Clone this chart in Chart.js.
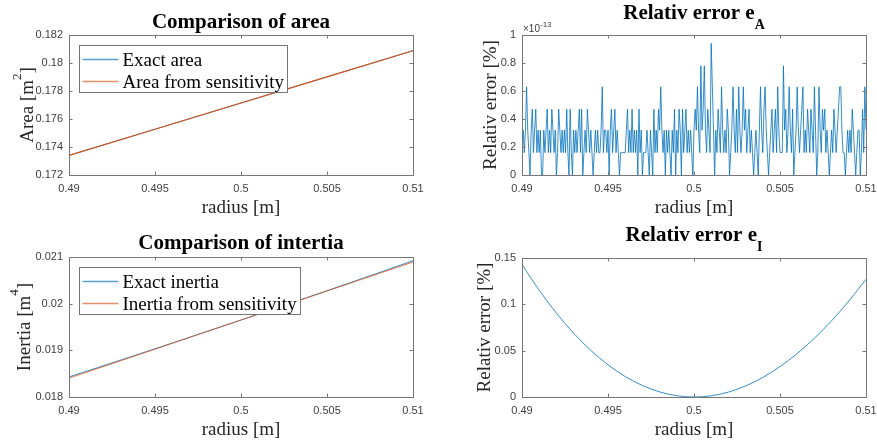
<!DOCTYPE html>
<html>
<head>
<meta charset="utf-8">
<script src="https://cdn.jsdelivr.net/npm/chart.js@4.4.1/dist/chart.umd.min.js"></script>
<style>
  body { margin: 0; background: #fff; }
  #wrap { position: relative; width: 877px; height: 446px; }
  canvas { position: absolute; }
</style>
</head>
<body>
<div id="wrap">
  <canvas id="areaChart" width="440" height="223" style="left:0;top:0"></canvas>
  <canvas id="errAChart" width="437" height="223" style="left:440px;top:0"></canvas>
  <canvas id="inertiaChart" width="440" height="223" style="left:0;top:223px"></canvas>
  <canvas id="errIChart" width="437" height="223" style="left:440px;top:223px"></canvas>
</div>
<script>
// tick values
const radiusTicks = [0.49, 0.495, 0.5, 0.505, 0.51];
const areaTicks = [0.172, 0.174, 0.176, 0.178, 0.18, 0.182];
const inertiaTicks = [0.018, 0.019, 0.02, 0.021];
const errATicks = [0, 0.2, 0.4, 0.6, 0.8, 1];
const errITicks = [0, 0.05, 0.1, 0.15];

// area comparison
const rArea = [0.49, 0.495, 0.5, 0.505, 0.51];
const areaExact = [0.1734, 0.17527, 0.17714, 0.17901, 0.18088];
const areaSens = [0.1734, 0.17527, 0.17714, 0.17901, 0.18088];

// inertia comparison
const rInertia = [0.49, 0.4925, 0.495, 0.4975, 0.5, 0.5025, 0.505, 0.5075, 0.51];
const inertiaExact = [0.01843, 0.01873, 0.019033, 0.01934, 0.019649, 0.019962, 0.020278, 0.020597, 0.02092];
const inertiaSens = [0.018404, 0.018715, 0.019026, 0.019338, 0.019649, 0.01996, 0.020271, 0.020582, 0.020893];

// relative error of inertia [%]
const rErrI = [0.49, 0.491, 0.492, 0.493, 0.494, 0.495, 0.496, 0.497, 0.498, 0.499, 0.5,
  0.501, 0.502, 0.503, 0.504, 0.505, 0.506, 0.507, 0.508, 0.509, 0.51];
const errI = [0.143, 0.1152, 0.0905, 0.0689, 0.0503, 0.0348, 0.0221, 0.0124, 0.0055, 0.0014, 0,
  0.0013, 0.0053, 0.0119, 0.0211, 0.0328, 0.0469, 0.0634, 0.0823, 0.1035, 0.127];

// relative error of area [% x 1e-13], evenly sampled from 0.49 to 0.51
const errA = [
  0.16,0.32,0.16,0.32,0.63,0.32,0.16,0,0.32,0.47,0.16,0.32,0.47,0.16,0.32,0.16,0.32,0,0,0.32,
  0.16,0.32,0.47,0.16,0.32,0.16,0.47,0.32,0.16,0.32,0,0.16,0.47,0.32,0.16,0.32,0.16,0.32,0.16,0.47,
  0.16,0,0.47,0.16,0,0.32,0.16,0.32,0.16,0.32,0.47,0.16,0.47,0,0.16,0.32,0.16,0.47,0.32,0.16,
  0.32,0.16,0,0.16,0.32,0.16,0.32,0.16,0.16,0.32,0.63,0.16,0.32,0.32,0.16,0.32,0,0.32,0.47,0.16,
  0.32,0.47,0.16,0.32,0.16,0,0.16,0.16,0.16,0.16,0.16,0.32,0.47,0.16,0.32,0.16,0.47,0.16,0.32,0.16,
  0.32,0,0.47,0.16,0.32,0,0.16,0.16,0.16,0.32,0.16,0,0.32,0.16,0,0.47,0.16,0.32,0.16,0.47,
  0.32,0.63,0.32,0.16,0.32,0,0.32,0.16,0.32,0.16,0,0.32,0.16,0.47,0,0.32,0.16,0.47,0.32,0,
  0.47,0.16,0.32,0.47,0.16,0.32,0.16,0.32,0.16,0,0.32,0.47,0.32,0.63,0.32,0.16,0.78,0.32,0.47,0.78,
  0.32,0.16,0.47,0.32,0.16,0.94,0.63,0.32,0,0.32,0.16,0.47,0.32,0.16,0.63,0.32,0.16,0.32,0.16,0.47,
  0.32,0,0.16,0.32,0.63,0.32,0.16,0.47,0.16,0.63,0.32,0.16,0.32,0.63,0.32,0.47,0.16,0.32,0.47,0.16,
  0.32,0.16,0,0.16,0.32,0.16,0,0.32,0.63,0.32,0.16,0.47,0.63,0.32,0.16,0,0.16,0.32,0.47,0.16,
  0.32,0.47,0.16,0.63,0.32,0.16,0.16,0.16,0.78,0.32,0.47,0.16,0.32,0.63,0.32,0.16,0.47,0,0.16,0.32,
  0.63,0.32,0.16,0.32,0.47,0.63,0.16,0.32,0.16,0.47,0.32,0.16,0.47,0.32,0.16,0.63,0.32,0,0.16,0.63,
  0.32,0.16,0.47,0.32,0.47,0.16,0.32,0.16,0,0.16,0.32,0.16,0.47,0.32,0.16,0.32,0.47,0.63,0.63,0.32,
  0.16,0.16,0,0.16,0.32,0.16,0.32,0.16,0.47,0.32,0.16,0,0.16,0.32,0.32,0,0.16,0.47,0.16,0.63,0.32
];
const rErrA = errA.map((_, i) => 0.49 + (i * 0.02) / (errA.length - 1));

const BLUE = "#0072BD";
const ORANGE = "#D95319";
const SERIF = '"Liberation Serif", "Times New Roman", serif';
const SANS = '"Liberation Sans", Arial, sans-serif';
const AXIS = "#777";

function pts(xs, ys) {
  return xs.map((x, i) => ({ x: x, y: ys[i] }));
}

function drawRich(ctx, parts, x, y) {
  parts.forEach((p) => {
    ctx.font = p.font;
    ctx.fillText(p.text, x, y + (p.dy || 0));
    x += ctx.measureText(p.text).width;
  });
}
function richWidth(ctx, parts) {
  let w = 0;
  parts.forEach((p) => {
    ctx.font = p.font;
    w += ctx.measureText(p.text).width;
  });
  return w;
}

// matlab-like box, inward ticks, labels and legend
const matlabAxes = {
  id: "matlab",
  afterDraw(chart, args, o) {
    const ctx = chart.ctx;
    const ca = chart.chartArea;
    const xs = chart.scales.x;
    const ys = chart.scales.y;
    ctx.save();
    ctx.strokeStyle = AXIS;
    ctx.lineWidth = 1;
    ctx.beginPath();
    xs.ticks.forEach((t) => {
      const px = Math.round(xs.getPixelForValue(t.value)) + 0.5;
      ctx.moveTo(px, ca.bottom);
      ctx.lineTo(px, ca.bottom - 3.5);
      ctx.moveTo(px, ca.top);
      ctx.lineTo(px, ca.top + 3.5);
    });
    ys.ticks.forEach((t) => {
      const py = Math.round(ys.getPixelForValue(t.value)) + 0.5;
      ctx.moveTo(ca.left, py);
      ctx.lineTo(ca.left + 3.5, py);
      ctx.moveTo(ca.right, py);
      ctx.lineTo(ca.right - 3.5, py);
    });
    ctx.stroke();
    ctx.strokeRect(ca.left + 0.5, ca.top + 0.5, ca.right - ca.left, ca.bottom - ca.top);

    // title
    ctx.fillStyle = "#000";
    ctx.textBaseline = "alphabetic";
    ctx.textAlign = "left";
    const cx = (ca.left + ca.right) / 2;
    const tw = richWidth(ctx, o.title);
    drawRich(ctx, o.title, cx - tw / 2, ca.top - o.titleOffset);

    // x label
    ctx.fillStyle = "#262626";
    const xl = [{ text: "radius [m]", font: "19px " + SERIF }];
    drawRich(ctx, xl, cx - richWidth(ctx, xl) / 2, ca.bottom + 38);

    // y label
    const cy = (ca.top + ca.bottom) / 2;
    ctx.save();
    ctx.translate(o.yLabelX, cy);
    ctx.rotate(-Math.PI / 2);
    drawRich(ctx, o.yLabel, -richWidth(ctx, o.yLabel) / 2, 0);
    ctx.restore();

    // exponent
    if (o.exponent) {
      ctx.fillStyle = "#404040";
      drawRich(ctx, [
        { text: "\u00d710", font: "10px " + SANS },
        { text: o.exponent, font: "8px " + SANS, dy: -5 },
      ], ca.left + 1, ca.top - 3);
    }

    // legend
    if (o.legend) {
      const ds = chart.data.datasets;
      const font = "19px " + SERIF;
      ctx.font = font;
      let mw = 0;
      ds.forEach((d) => (mw = Math.max(mw, ctx.measureText(d.label).width)));
      const lx = ca.left + 10.5;
      const ly = ca.top + 10.5;
      const lw = Math.round(43 + mw + 4);
      const lh = 47;
      ctx.fillStyle = "#fff";
      ctx.fillRect(lx, ly, lw, lh);
      ctx.strokeStyle = AXIS;
      ctx.strokeRect(lx, ly, lw, lh);
      ds.forEach((d, i) => {
        const rowY = Math.round(ly + 13 + i * 22.5) + 0.5;
        ctx.save();
        ctx.globalAlpha = 0.65;
        ctx.strokeStyle = d.borderColor;
        ctx.lineWidth = 1.3;
        ctx.beginPath();
        ctx.moveTo(lx + 3, rowY);
        ctx.lineTo(lx + 39, rowY);
        ctx.stroke();
        ctx.restore();
        ctx.fillStyle = "#000";
        ctx.font = font;
        ctx.fillText(d.label, lx + 43, rowY + 6);
      });
    }
    ctx.restore();
  },
};

function makeAxes(id, box, datasets, yMin, yMax, yTicks, opts) {
  const canvas = document.getElementById(id);
  const W = canvas.width;
  const H = canvas.height;
  return new Chart(canvas.getContext("2d"), {
    type: "line",
    data: { datasets: datasets },
    options: {
      responsive: false,
      animation: false,
      events: [],
      layout: { padding: { top: box.top, right: W - box.right, left: 0, bottom: 0 } },
      plugins: {
        legend: { display: false },
        tooltip: { enabled: false },
        matlab: opts,
      },
      scales: {
        x: {
          type: "linear",
          min: 0.49,
          max: 0.51,
          afterBuildTicks: (s) => (s.ticks = radiusTicks.map((v) => ({ value: v }))),
          afterFit: (s) => {
            s.height = H - box.bottom;
            s.paddingLeft = 0;
            s.paddingRight = 0;
          },
          grid: { display: false, drawTicks: false },
          border: { display: false },
          ticks: {
            padding: 7,
            maxRotation: 0,
            autoSkip: false,
            color: "#404040",
            font: { family: SANS, size: 11 },
            callback: (v) => String(v),
          },
        },
        y: {
          type: "linear",
          min: yMin,
          max: yMax,
          afterBuildTicks: (s) => (s.ticks = yTicks.map((v) => ({ value: v }))),
          afterFit: (s) => {
            s.width = box.left;
            s.paddingTop = 0;
            s.paddingBottom = 0;
          },
          grid: { display: false, drawTicks: false },
          border: { display: false },
          ticks: {
            padding: 6,
            autoSkip: false,
            color: "#404040",
            font: { family: SANS, size: 11 },
            callback: (v) => String(v),
          },
        },
      },
    },
    plugins: [matlabAxes],
  });
}

function line(label, data, color, order, extra) {
  return Object.assign({
    label: label,
    data: data,
    borderColor: color,
    borderWidth: 0.8,
    pointRadius: 0,
    fill: false,
    tension: 0,
    order: order,
  }, extra || {});
}

const big = "19px " + SERIF;
const sup = "13px " + SERIF;
const titleFont = "bold 21px " + SERIF;
const subFont = "bold 14px " + SERIF;

makeAxes("areaChart", { left: 69, top: 35, right: 413, bottom: 175 }, [
  line("Exact area", pts(rArea, areaExact), BLUE, 1),
  line("Area from sensitivity", pts(rArea, areaSens), ORANGE, 0, { borderWidth: 1.1 }),
], 0.172, 0.182, areaTicks, {
  title: [{ text: "Comparison of area", font: titleFont }],
  titleOffset: 7,
  yLabel: [{ text: "Area [m", font: big }, { text: "2", font: sup, dy: -12 }, { text: "]", font: big }],
  yLabelX: 33,
  legend: true,
});

makeAxes("errAChart", { left: 82, top: 35, right: 426, bottom: 175 }, [
  line("e_A", pts(rErrA, errA), BLUE, 0),
], 0, 1, errATicks, {
  title: [{ text: "Relativ error e", font: titleFont }, { text: "A", font: subFont, dy: 10 }],
  titleOffset: 16,
  yLabel: [{ text: "Relativ error [%]", font: big }],
  yLabelX: 56,
  exponent: "-13",
});

makeAxes("inertiaChart", { left: 69, top: 34, right: 413, bottom: 174 }, [
  line("Exact inertia", pts(rInertia, inertiaExact), BLUE, 1),
  line("Inertia from sensitivity", pts(rInertia, inertiaSens), ORANGE, 0),
], 0.018, 0.021, inertiaTicks, {
  title: [{ text: "Comparison of intertia", font: titleFont }],
  titleOffset: 8,
  yLabel: [{ text: "Inertia [m", font: big }, { text: "4", font: sup, dy: -12 }, { text: "]", font: big }],
  yLabelX: 30,
  legend: true,
});

makeAxes("errIChart", { left: 82, top: 35, right: 426, bottom: 174 }, [
  line("e_I", pts(rErrI, errI), BLUE, 0, { cubicInterpolationMode: "monotone" }),
], 0, 0.15, errITicks, {
  title: [{ text: "Relativ error e", font: titleFont }, { text: "I", font: subFont, dy: 10 }],
  titleOffset: 17,
  yLabel: [{ text: "Relativ error [%]", font: big }],
  yLabelX: 50,
});
</script>
</body>
</html>
